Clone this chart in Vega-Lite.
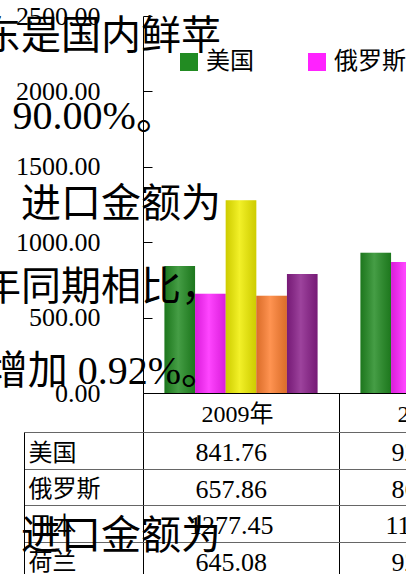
{
  "$schema": "https://vega.github.io/schema/vega-lite/v6.json",
  "background": "white",
  "padding": {"left": -19, "top": 3, "right": 0, "bottom": 0},
  "spacing": 39,
  "bounds": "flush",
  "datasets": {
    "bars": [
      {"year": "2009年", "country": "美国", "value": 841.76},
      {"year": "2009年", "country": "俄罗斯", "value": 657.86},
      {"year": "2009年", "country": "日本", "value": 1277.45},
      {"year": "2009年", "country": "荷兰", "value": 645.08},
      {"year": "2009年", "country": "韩国", "value": 789.6},
      {"year": "2010年", "country": "美国", "value": 929.8},
      {"year": "2010年", "country": "俄罗斯", "value": 868.7},
      {"year": "2010年", "country": "日本", "value": 1150.3},
      {"year": "2010年", "country": "荷兰", "value": 920.5},
      {"year": "2010年", "country": "韩国", "value": 850.2}
    ],
    "doc": [
      {"line": "1", "text": "东是国内鲜苹"},
      {"line": "2", "text": "90.00%。"},
      {"line": "3", "text": "进口金额为"},
      {"line": "4", "text": "年同期相比，"},
      {"line": "5", "text": "增加 0.92%。"},
      {"line": "7", "text": "进口金额为"}
    ]
  },
  "vconcat": [
    {
      "width": 392,
      "height": 377,
      "layer": [
        {
          "data": {"name": "bars"},
          "mark": {"type": "bar"},
          "encoding": {
            "x": {
              "field": "year", "type": "nominal", "title": null,
              "scale": {"paddingInner": 0, "paddingOuter": 0},
              "axis": {
                "labelAngle": 0, "tickBand": "extent", "tickSize": 39, "tickColor": "#000",
                "domainColor": "#000", "labelPadding": -18, "labelBaseline": "middle",
                "labelOffset": -4, "labelFontSize": 24, "labelColor": "#000", "grid": false
              }
            },
            "xOffset": {
              "field": "country", "type": "nominal",
              "sort": ["美国", "俄罗斯", "日本", "荷兰", "韩国"],
              "scale": {"paddingInner": 0, "paddingOuter": 0.7}
            },
            "y": {
              "field": "value", "type": "quantitative", "title": null,
              "scale": {"domain": [0, 2500], "nice": false},
              "axis": {
                "values": [0, 500, 1000, 1500, 2000, 2500], "format": ".2f", "grid": false,
                "tickSize": -9, "labelPadding": 52, "labelFontSize": 26, "labelColor": "#000",
                "domainColor": "#000", "tickColor": "#000"
              }
            },
            "color": {
              "field": "country", "type": "nominal", "title": null,
              "scale": {
                "domain": ["美国", "俄罗斯", "日本", "荷兰", "韩国"],
                "range": ["#228b22", "#ff22ff", "#f0ee00", "#ff7f30", "#8a1f8a"]
              },
              "legend": {
                "orient": "top-left", "offset": 34, "direction": "horizontal", "columns": 5,
                "symbolType": "square", "symbolSize": 324, "symbolStrokeWidth": 0,
                "labelFontSize": 24, "labelOffset": 5, "columnPadding": 51, "padding": 0,
                "labelColor": "#000"
              }
            }
          }
        },
        {
          "data": {"name": "bars"},
          "mark": {
            "type": "bar",
            "color": {
              "gradient": "linear", "x1": 0, "x2": 1, "y1": 0, "y2": 0,
              "stops": [
                {"offset": 0, "color": "rgba(0,0,0,0.14)"},
                {"offset": 0.45, "color": "rgba(255,255,255,0.16)"},
                {"offset": 1, "color": "rgba(0,0,0,0.14)"}
              ]
            }
          },
          "encoding": {
            "x": {"field": "year", "type": "nominal"},
            "xOffset": {"field": "country", "type": "nominal", "sort": ["美国", "俄罗斯", "日本", "荷兰", "韩国"]},
            "y": {"field": "value", "type": "quantitative", "scale": {"domain": [0, 2500], "nice": false}, "axis": null}
          }
        },
        {
          "data": {"name": "doc"},
          "transform": [{"filter": {"field": "line", "oneOf": ["1", "3", "4", "5"]}}],
          "mark": {"type": "text", "align": "right", "baseline": "middle", "fontSize": 40, "color": "#000"},
          "encoding": {
            "x": {"datum": "2009年", "bandPosition": 0.398},
            "y": {"field": "line", "type": "ordinal", "scale": {"type": "point", "domain": ["1", "2", "3", "4", "5"], "padding": 0.25, "align": 0.5}, "axis": null},
            "text": {"field": "text"}
          }
        },
        {
          "data": {"name": "doc"},
          "transform": [{"filter": {"field": "line", "equal": "2"}}],
          "mark": {"type": "text", "align": "right", "baseline": "middle", "fontSize": 40, "color": "#000"},
          "encoding": {
            "x": {"datum": "2009年", "bandPosition": 0.168},
            "y": {"field": "line", "type": "ordinal", "scale": {"type": "point", "domain": ["1", "2", "3", "4", "5"], "padding": 0.25, "align": 0.4}, "axis": null},
            "text": {"field": "text"}
          }
        }
      ],
      "resolve": {"scale": {"y": "independent"}}
    },
    {
      "width": 392,
      "height": 182.5,
      "layer": [
        {
          "data": {"name": "bars"},
          "mark": {"type": "text", "align": "center", "baseline": "middle", "fontSize": 26, "color": "#000", "dy": 3},
          "encoding": {
            "x": {
              "field": "year", "type": "nominal", "title": null, "bandPosition": 0.45,
              "scale": {"paddingInner": 0, "paddingOuter": 0},
              "axis": {"grid": true, "tickBand": "extent", "gridColor": "#000", "gridOpacity": 1, "labels": false, "ticks": false, "domain": false}
            },
            "y": {
              "field": "country", "type": "nominal", "title": null,
              "sort": ["美国", "俄罗斯", "日本", "荷兰", "韩国"],
              "scale": {"paddingInner": 0, "paddingOuter": 0},
              "axis": {
                "offset": 119, "tickBand": "extent", "tickSize": -119, "tickColor": "#666",
                "grid": true, "gridColor": "#666", "gridOpacity": 1, "domainColor": "#000",
                "labelAlign": "left", "labelBaseline": "middle", "labelPadding": 115,
                "labelOffset": 3, "labelFontSize": 24, "labelColor": "#000"
              }
            },
            "text": {"field": "value", "type": "quantitative", "format": ".2f"}
          }
        },
        {
          "data": {"name": "doc"},
          "transform": [{"filter": {"field": "line", "equal": "7"}}],
          "mark": {"type": "text", "align": "right", "baseline": "middle", "fontSize": 40, "color": "#000"},
          "encoding": {
            "x": {"datum": "2009年", "bandPosition": 0.398},
            "y": {"datum": "日本", "bandPosition": 0.88},
            "text": {"field": "text"}
          }
        }
      ]
    }
  ],
  "config": {
    "font": "Liberation Serif, Noto Sans CJK SC",
    "view": {"stroke": null},
    "axis": {"labelFont": "Liberation Serif, Noto Sans CJK SC", "titleFont": "Liberation Serif, Noto Sans CJK SC"},
    "legend": {"labelFont": "Liberation Serif, Noto Sans CJK SC"},
    "text": {"font": "Liberation Serif, Noto Sans CJK SC"}
  }
}
